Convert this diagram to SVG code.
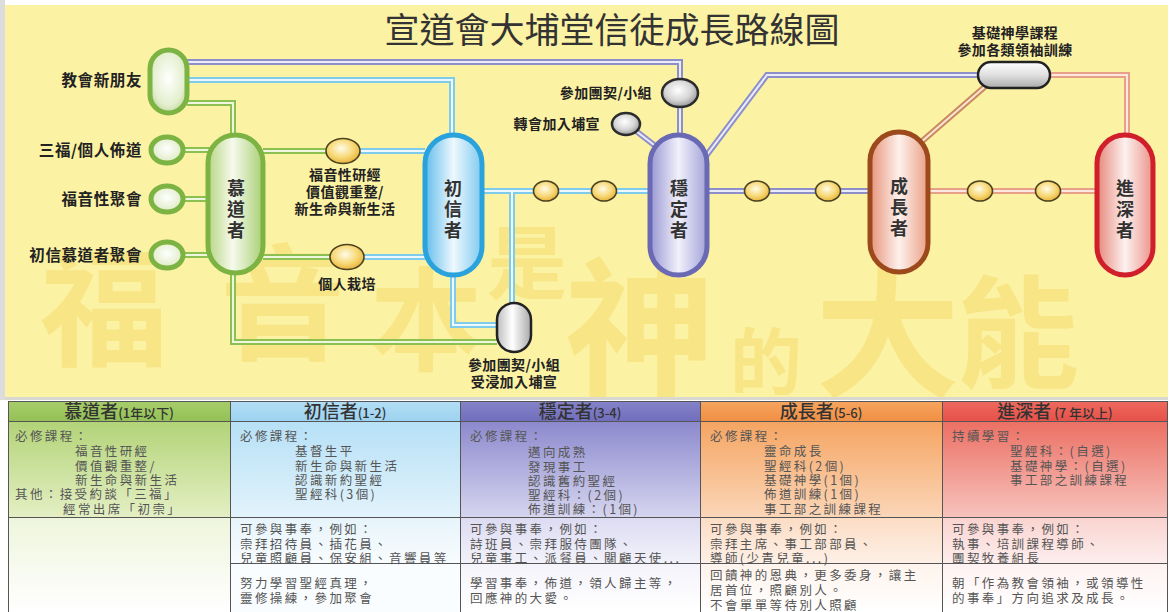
<svg xmlns="http://www.w3.org/2000/svg" width="1173" height="612" viewBox="0 0 1173 612">
<style>
.cjk{font-family:"Noto Sans CJK TC","Noto Sans CJK SC",sans-serif}
.title{font-size:35px;fill:#333;font-weight:400}
.lbl{font-size:15.5px;font-weight:700;fill:#222;letter-spacing:0.6px}
.lb2{font-size:14px;font-weight:700;fill:#222;letter-spacing:0.4px}
.pt{font-size:18px;font-weight:700;fill:#333;text-anchor:middle}
.wm{font-weight:700;fill:#f2d25a;opacity:0.4}
.trk{fill:none;stroke-width:6;stroke-linejoin:miter}
.in{fill:none;stroke-width:2}
.po{stroke:#8d8fcb}.pi{stroke:#ececf8}
.bo{stroke:#7fcbec}.bi{stroke:#eef9fd}
.go{stroke:#8cc152}.gi{stroke:#eef6de}
.so{stroke:#e9a089}.si{stroke:#fce8df}
.ro{stroke:#c98a5e}.ri{stroke:#fbe6d6}
.orn{fill:url(#gOr);stroke:#4a4220;stroke-width:1.6}
.gry{fill:url(#gGr);stroke:#2c2c2c;stroke-width:2.5}
.gsm{fill:url(#gGs);stroke:#7cb342;stroke-width:5}
.th{font-size:18px;fill:#333;text-anchor:middle;font-weight:500}
.ths{font-size:13px}
.tb{font-size:12.5px;fill:#555;letter-spacing:2.4px}
.grid{fill:none;stroke:#555;stroke-width:1}
</style>
<defs>
<radialGradient id="gOr" cx="0.45" cy="0.4" r="0.6"><stop offset="0" stop-color="#fffbe6"/><stop offset="0.6" stop-color="#f7d978"/><stop offset="1" stop-color="#e9b43c"/></radialGradient>
<radialGradient id="gGr" cx="0.45" cy="0.4" r="0.6"><stop offset="0" stop-color="#ffffff"/><stop offset="0.6" stop-color="#d6d6d6"/><stop offset="1" stop-color="#9a9a9a"/></radialGradient>
<radialGradient id="gGs" cx="0.5" cy="0.45" r="0.6"><stop offset="0" stop-color="#ffffff"/><stop offset="0.7" stop-color="#e4efcf"/><stop offset="1" stop-color="#bcd89a"/></radialGradient>
<linearGradient id="gG" x1="0" x2="1" y1="0" y2="0"><stop offset="0" stop-color="#b7d685"/><stop offset="0.45" stop-color="#f6faec"/><stop offset="1" stop-color="#a9cf74"/></linearGradient>
<linearGradient id="gB" x1="0" x2="1" y1="0" y2="0"><stop offset="0" stop-color="#62bdec"/><stop offset="0.5" stop-color="#eef8fd"/><stop offset="1" stop-color="#7fcaf0"/></linearGradient>
<linearGradient id="gP" x1="0" x2="1" y1="0" y2="0"><stop offset="0" stop-color="#9896d2"/><stop offset="0.5" stop-color="#f1f1fb"/><stop offset="1" stop-color="#a3a1d8"/></linearGradient>
<linearGradient id="gS" x1="0" x2="1" y1="0" y2="0"><stop offset="0" stop-color="#e7937a"/><stop offset="0.5" stop-color="#fdf1ec"/><stop offset="1" stop-color="#eba087"/></linearGradient>
<linearGradient id="gR" x1="0" x2="1" y1="0" y2="0"><stop offset="0" stop-color="#e6877b"/><stop offset="0.5" stop-color="#fdf1ef"/><stop offset="1" stop-color="#eb9389"/></linearGradient>
<linearGradient id="gW" x1="0" x2="0" y1="0" y2="1"><stop offset="0" stop-color="#ffffff"/><stop offset="0.5" stop-color="#e0e0e0"/><stop offset="1" stop-color="#ababab"/></linearGradient>
<linearGradient id="gH" x1="0" x2="1" y1="0" y2="0"><stop offset="0" stop-color="#bdbdbd"/><stop offset="0.45" stop-color="#ffffff"/><stop offset="1" stop-color="#a8a8a8"/></linearGradient>
<linearGradient id="h1" x1="0" x2="0" y1="0" y2="1"><stop offset="0" stop-color="#a8cd6a"/><stop offset="1" stop-color="#93c157"/></linearGradient>
<linearGradient id="h2" x1="0" x2="0" y1="0" y2="1"><stop offset="0" stop-color="#b3def5"/><stop offset="1" stop-color="#9dd3f0"/></linearGradient>
<linearGradient id="h3" x1="0" x2="0" y1="0" y2="1"><stop offset="0" stop-color="#8583c8"/><stop offset="1" stop-color="#716fbd"/></linearGradient>
<linearGradient id="h4" x1="0" x2="0" y1="0" y2="1"><stop offset="0" stop-color="#f6a55f"/><stop offset="1" stop-color="#f08f44"/></linearGradient>
<linearGradient id="h5" x1="0" x2="0" y1="0" y2="1"><stop offset="0" stop-color="#ee6a5e"/><stop offset="1" stop-color="#e6514a"/></linearGradient>
<linearGradient id="c1" x1="0" x2="0" y1="0" y2="1"><stop offset="0" stop-color="#b2d377"/><stop offset="1" stop-color="#e4efc4"/></linearGradient>
<linearGradient id="c2" x1="0" x2="0" y1="0" y2="1"><stop offset="0" stop-color="#b6e0f6"/><stop offset="1" stop-color="#e2f3fb"/></linearGradient>
<linearGradient id="c3" x1="0" x2="0" y1="0" y2="1"><stop offset="0" stop-color="#8b89cd"/><stop offset="1" stop-color="#d6d5ef"/></linearGradient>
<linearGradient id="c4" x1="0" x2="0" y1="0" y2="1"><stop offset="0" stop-color="#f5a461"/><stop offset="1" stop-color="#fbd6b8"/></linearGradient>
<linearGradient id="c5" x1="0" x2="0" y1="0" y2="1"><stop offset="0" stop-color="#ec6f63"/><stop offset="1" stop-color="#f7c3bd"/></linearGradient>
<linearGradient id="d1" x1="0" x2="0" y1="0" y2="1"><stop offset="0" stop-color="#eef5dc"/><stop offset="1" stop-color="#ffffff"/></linearGradient>
<linearGradient id="d2" x1="0" x2="0" y1="0" y2="1"><stop offset="0" stop-color="#e6f4fb"/><stop offset="1" stop-color="#f8fcfe"/></linearGradient>
<linearGradient id="d3" x1="0" x2="0" y1="0" y2="1"><stop offset="0" stop-color="#dcdbf2"/><stop offset="1" stop-color="#f2f2fa"/></linearGradient>
<linearGradient id="d4" x1="0" x2="0" y1="0" y2="1"><stop offset="0" stop-color="#fcdcc4"/><stop offset="1" stop-color="#fdf0e6"/></linearGradient>
<linearGradient id="d5" x1="0" x2="0" y1="0" y2="1"><stop offset="0" stop-color="#f9d3cf"/><stop offset="1" stop-color="#fdeeed"/></linearGradient>
<linearGradient id="e3" x1="0" x2="0" y1="0" y2="1"><stop offset="0" stop-color="#f4f3fb"/><stop offset="1" stop-color="#ffffff"/></linearGradient>
<linearGradient id="e4" x1="0" x2="0" y1="0" y2="1"><stop offset="0" stop-color="#fef3ec"/><stop offset="1" stop-color="#ffffff"/></linearGradient>
<linearGradient id="e5" x1="0" x2="0" y1="0" y2="1"><stop offset="0" stop-color="#fef2f1"/><stop offset="1" stop-color="#ffffff"/></linearGradient>
<clipPath id="panel"><rect x="5" y="5" width="1163" height="392"/></clipPath>
</defs>

<rect x="0" y="0" width="1173" height="612" fill="#ffffff"/>
<rect x="0" y="0" width="5" height="400" fill="#dcdcdc"/>
<rect x="5" y="5" width="1163" height="392" fill="#fcf2a4"/>
<rect x="5" y="397" width="1163" height="3" fill="#d8d8d0"/>

<g id="watermark" class="cjk wm" clip-path="url(#panel)">
<text x="40" y="356" font-size="128">福</text>
<text x="220" y="350" font-size="125">音</text>
<text x="370" y="362" font-size="112">本</text>
<text x="487" y="292" font-size="80">是</text>
<text x="565" y="384" font-size="150">神</text>
<text x="730" y="388" font-size="72">的</text>
<text x="815" y="386" font-size="145">大</text>
<text x="957" y="378" font-size="122">能</text>
</g>

<text id="title" class="cjk title" x="612" y="43" text-anchor="middle">宣道會大埔堂信徒成長路線圖</text>

<g id="connectors">
<path class="trk po" d="M187,62 H680 V135"/><path class="in pi" d="M187,62 H680 V135"/>
<path class="trk bo" d="M187,80 H452 V135"/><path class="in bi" d="M187,80 H452 V135"/>
<path class="trk go" d="M187,103 H233 V135"/><path class="in gi" d="M187,103 H233 V135"/>
<path class="trk go" d="M183,150 H210 M183,199 H210 M183,255 H210"/><path class="in gi" d="M183,150 H210 M183,199 H210 M183,255 H210"/>
<path class="trk go" d="M263,151 H326 M263,257 H330"/><path class="in gi" d="M263,151 H326 M263,257 H330"/>
<path class="trk bo" d="M360,151 H425 M364,257 H425"/><path class="in bi" d="M360,151 H425 M364,257 H425"/>
<path class="trk go" d="M233,273 V342 H497"/><path class="in gi" d="M233,273 V342 H497"/>
<path class="trk bo" d="M453,275 V325 H497"/><path class="in bi" d="M453,275 V325 H497"/>
<path class="trk bo" d="M482,191 H650 M512,191 V303"/><path class="in bi" d="M482,191 H650 M512,191 V303"/>
<path class="trk po" d="M636,131 L658,148"/><path class="in pi" d="M636,131 L658,148"/>
<path class="trk po" d="M707,191 H870"/><path class="in pi" d="M707,191 H870"/>
<path class="trk po" d="M703,160 L767,75 H978"/><path class="in pi" d="M703,160 L767,75 H978"/>
<path class="trk so" d="M928,191 H1097"/><path class="in si" d="M928,191 H1097"/>
<path class="trk ro" d="M920,143 L988,84"/><path class="in ri" d="M920,143 L988,84"/>
<path class="trk so" d="M1050,75 H1127 V135"/><path class="in si" d="M1050,75 H1127 V135"/>
</g>

<g id="n-newfriend">
<rect x="150" y="50" width="37" height="63" rx="18.5" class="gsm"/>
<text class="cjk lbl" x="142" y="86" text-anchor="end">教會新朋友</text>
</g>
<g id="n-sanfu">
<ellipse cx="167" cy="150" rx="16" ry="13" class="gsm"/>
<text class="cjk lbl" x="142" y="156" text-anchor="end">三福/個人佈道</text>
</g>
<g id="n-gospelmeet">
<ellipse cx="167" cy="199" rx="16" ry="13" class="gsm"/>
<text class="cjk lbl" x="142" y="205" text-anchor="end">福音性聚會</text>
</g>
<g id="n-seekermeet">
<ellipse cx="167" cy="255" rx="16" ry="13" class="gsm"/>
<text class="cjk lbl" x="142" y="261" text-anchor="end">初信慕道者聚會</text>
</g>
<g id="n-seeker">
<rect x="208" y="135" width="55" height="138" rx="27.5" fill="url(#gG)" stroke="#7cb342" stroke-width="5"/>
<text class="cjk pt"><tspan x="236" y="195">慕</tspan><tspan x="236" y="216">道</tspan><tspan x="236" y="237">者</tspan></text>
</g>
<g id="n-study">
<ellipse cx="343" cy="151" rx="17" ry="12.5" class="orn"/>
<text class="cjk lb2" text-anchor="middle"><tspan x="345" y="180">福音性研經</tspan><tspan x="345" y="197">價值觀重整/</tspan><tspan x="345" y="214">新生命與新生活</tspan></text>
</g>
<g id="n-nurture">
<ellipse cx="347" cy="257" rx="17" ry="12.5" class="orn"/>
<text class="cjk lb2" x="347" y="289" text-anchor="middle">個人栽培</text>
</g>
<g id="n-new">
<rect x="425" y="135" width="57" height="140" rx="28.5" fill="url(#gB)" stroke="#2aa2dc" stroke-width="5"/>
<text class="cjk pt"><tspan x="453" y="195">初</tspan><tspan x="453" y="216">信</tspan><tspan x="453" y="237">者</tspan></text>
</g>
<g id="n-o1"><ellipse cx="546" cy="191" rx="12.5" ry="10" class="orn"/></g>
<g id="n-o2"><ellipse cx="604" cy="191" rx="12.5" ry="10" class="orn"/></g>
<g id="n-baptism">
<rect x="497" y="303" width="34" height="49" rx="17" fill="url(#gH)" stroke="#222" stroke-width="2.5"/>
<text class="cjk lb2" text-anchor="middle"><tspan x="514" y="370">參加團契/小組</tspan><tspan x="514" y="387">受浸加入埔宣</tspan></text>
</g>
<g id="n-fellowship">
<ellipse cx="680" cy="93" rx="18" ry="14" class="gry"/>
<text class="cjk lb2" x="652" y="98" text-anchor="end">參加團契/小組</text>
</g>
<g id="n-transfer">
<ellipse cx="626" cy="124" rx="14" ry="11" class="gry"/>
<text class="cjk lb2" x="600" y="129" text-anchor="end">轉會加入埔宣</text>
</g>
<g id="n-stable">
<rect x="650" y="135" width="57" height="140" rx="28.5" fill="url(#gP)" stroke="#6a69b3" stroke-width="5"/>
<text class="cjk pt"><tspan x="679" y="195">穩</tspan><tspan x="679" y="216">定</tspan><tspan x="679" y="237">者</tspan></text>
</g>
<g id="n-o3"><ellipse cx="757" cy="191" rx="12.5" ry="10" class="orn"/></g>
<g id="n-o4"><ellipse cx="828" cy="191" rx="12.5" ry="10" class="orn"/></g>
<g id="n-growing">
<rect x="870" y="132" width="58" height="140" rx="29" fill="url(#gS)" stroke="#9c4a1c" stroke-width="5"/>
<text class="cjk pt"><tspan x="899" y="193">成</tspan><tspan x="899" y="214">長</tspan><tspan x="899" y="235">者</tspan></text>
</g>
<g id="n-theology">
<rect x="978" y="62" width="72" height="26" rx="13" fill="url(#gW)" stroke="#222" stroke-width="2.5"/>
<text class="cjk lb2" text-anchor="middle"><tspan x="1015" y="38">基礎神學課程</tspan><tspan x="1015" y="55">參加各類領袖訓練</tspan></text>
</g>
<g id="n-o5"><ellipse cx="980" cy="191" rx="12.5" ry="10" class="orn"/></g>
<g id="n-o6"><ellipse cx="1048" cy="191" rx="12.5" ry="10" class="orn"/></g>
<g id="n-deep">
<rect x="1097" y="135" width="56" height="140" rx="28" fill="url(#gR)" stroke="#d01f2a" stroke-width="5"/>
<text class="cjk pt"><tspan x="1125" y="195">進</tspan><tspan x="1125" y="216">深</tspan><tspan x="1125" y="237">者</tspan></text>
</g>

<g id="table">
<rect x="8" y="401" width="222" height="20" fill="url(#h1)"/>
<rect x="230" y="401" width="230" height="20" fill="url(#h2)"/>
<rect x="460" y="401" width="240" height="20" fill="url(#h3)"/>
<rect x="700" y="401" width="242" height="20" fill="url(#h4)"/>
<rect x="942" y="401" width="226" height="20" fill="url(#h5)"/>
<rect x="8" y="421" width="222" height="96" fill="url(#c1)"/>
<rect x="230" y="421" width="230" height="96" fill="url(#c2)"/>
<rect x="460" y="421" width="240" height="96" fill="url(#c3)"/>
<rect x="700" y="421" width="242" height="96" fill="url(#c4)"/>
<rect x="942" y="421" width="226" height="96" fill="url(#c5)"/>
<rect x="8" y="517" width="222" height="95" fill="url(#d1)"/>
<rect x="230" y="517" width="230" height="46" fill="url(#d2)"/>
<rect x="460" y="517" width="240" height="46" fill="url(#d3)"/>
<rect x="700" y="517" width="242" height="46" fill="url(#d4)"/>
<rect x="942" y="517" width="226" height="46" fill="url(#d5)"/>
<rect x="230" y="563" width="230" height="49" fill="#fafdff"/>
<rect x="460" y="563" width="240" height="49" fill="url(#e3)"/>
<rect x="700" y="563" width="242" height="49" fill="url(#e4)"/>
<rect x="942" y="563" width="226" height="49" fill="url(#e5)"/>
<path class="grid" d="M8.5,401.5 H1168 M8,421.5 H1168 M8,517.5 H1168 M230,563.5 H1168 M8.5,401 V612 M230.5,401 V612 M460.5,401 V612 M700.5,401 V612 M942.5,401 V612 M1167.5,401 V612"/>

<text class="cjk th" x="119" y="418">慕道者<tspan class="ths">(1年以下)</tspan></text>
<text class="cjk th" x="345" y="418">初信者<tspan class="ths">(1-2)</tspan></text>
<text class="cjk th" x="580" y="418">穩定者<tspan class="ths">(3-4)</tspan></text>
<text class="cjk th" x="821" y="418">成長者<tspan class="ths">(5-6)</tspan></text>
<text class="cjk th" x="1055" y="418">進深者<tspan class="ths"> (7 年以上)</tspan></text>

<g class="cjk tb">
<text><tspan x="15" y="441">必修課程：</tspan><tspan x="75" y="456">福音性研經</tspan><tspan x="75" y="471">價值觀重整/</tspan><tspan x="75" y="485">新生命與新生活</tspan><tspan x="15" y="499">其他：接受約談「三福」</tspan><tspan x="63" y="514">經常出席「初崇」</tspan></text>

<text><tspan x="240" y="441">必修課程：</tspan><tspan x="295" y="456">基督生平</tspan><tspan x="295" y="471">新生命與新生活</tspan><tspan x="295" y="485">認識新約聖經</tspan><tspan x="295" y="499">聖經科(3個)</tspan></text>
<text><tspan x="240" y="534">可參與事奉，例如：</tspan><tspan x="240" y="549">崇拜招待員、插花員、</tspan><tspan x="240" y="563">兒童照顧員、保安組、音響員等</tspan></text>
<text><tspan x="240" y="588">努力學習聖經真理，</tspan><tspan x="240" y="603">靈修操練，參加聚會</tspan></text>

<text><tspan x="470" y="441">必修課程：</tspan><tspan x="528" y="457">邁向成熟</tspan><tspan x="528" y="472">發現事工</tspan><tspan x="528" y="486">認識舊約聖經</tspan><tspan x="528" y="500">聖經科：(2個)</tspan><tspan x="528" y="514">佈道訓練：(1個)</tspan></text>
<text><tspan x="470" y="534">可參與事奉，例如：</tspan><tspan x="470" y="549">詩班員、崇拜服侍團隊、</tspan><tspan x="470" y="563">兒童事工、派餐員、關顧天使...</tspan></text>
<text><tspan x="470" y="588">學習事奉，佈道，領人歸主等，</tspan><tspan x="470" y="603">回應神的大愛。</tspan></text>

<text><tspan x="710" y="441">必修課程：</tspan><tspan x="764" y="456">靈命成長</tspan><tspan x="764" y="471">聖經科(2個)</tspan><tspan x="764" y="485">基礎神學(1個)</tspan><tspan x="764" y="499">佈道訓練(1個)</tspan><tspan x="764" y="514">事工部之訓練課程</tspan></text>
<text><tspan x="710" y="534">可參與事奉，例如：</tspan><tspan x="710" y="549">崇拜主席、事工部部員、</tspan><tspan x="710" y="563">導師(少青兒童...)</tspan></text>
<text><tspan x="710" y="580">回饋神的恩典，更多委身，讓主</tspan><tspan x="710" y="595">居首位，照顧別人。</tspan><tspan x="710" y="610">不會單單等待別人照顧</tspan></text>

<text><tspan x="952" y="441">持續學習：</tspan><tspan x="1010" y="456">聖經科：(自選)</tspan><tspan x="1010" y="471">基礎神學：(自選)</tspan><tspan x="1010" y="485">事工部之訓練課程</tspan></text>
<text><tspan x="952" y="534">可參與事奉，例如：</tspan><tspan x="952" y="549">執事、培訓課程導師、</tspan><tspan x="952" y="563">團契牧養組長</tspan></text>
<text><tspan x="952" y="588">朝「作為教會領袖，或領導性</tspan><tspan x="952" y="603">的事奉」方向追求及成長。</tspan></text>
</g>
</g>
</svg>
